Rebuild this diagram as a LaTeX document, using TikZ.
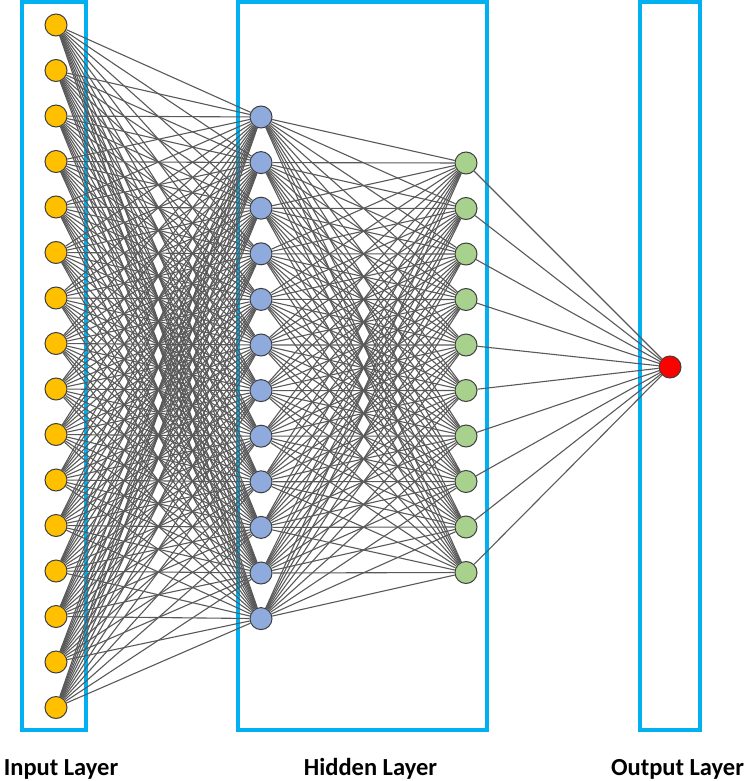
\documentclass[tikz,border=0pt]{standalone}
\usepackage{fontspec}
\setmainfont{Carlito}
\begin{document}
\begin{tikzpicture}[x=1pt,y=-1pt,
  layerbox/.style={draw=cyanbox,line width=4pt},
  neuron/.style={circle,draw=nodeborder,line width=1pt,minimum size=22pt,inner sep=0pt},
  edge/.style={draw=edgegray,line width=1.1pt},
  lbl/.style={font=\bfseries\fontsize{24.5}{28}\selectfont,inner sep=0pt,anchor=base}]
\definecolor{cyanbox}{HTML}{00B0F0}
\definecolor{nodeborder}{HTML}{404040}
\definecolor{edgegray}{HTML}{595959}
\definecolor{inyellow}{HTML}{FFC000}
\definecolor{hidblue}{HTML}{8FAADC}
\definecolor{hidgreen}{HTML}{A9D18E}
\useasboundingbox (0,0) rectangle (749,781);
\draw[layerbox] (22,2) rectangle (86,730);
\draw[layerbox] (238,2) rectangle (487,730);
\draw[layerbox] (640,2) rectangle (700,730);
\foreach \k in {1,...,16}
  \node[neuron,fill=inyellow] (i\k) at (56,{25+(\k-1)*45.5}) {};
\foreach \k in {1,...,12}
  \node[neuron,fill=hidblue] (a\k) at (261,{117+(\k-1)*45.6}) {};
\foreach \k in {1,...,10}
  \node[neuron,fill=hidgreen] (b\k) at (466,{163+(\k-1)*45.5}) {};
\node[neuron,fill=red] (o) at (670,367) {};
\foreach \p in {1,...,16}
  \foreach \q in {1,...,12}
    \draw[edge] (i\p) -- (a\q);
\foreach \p in {1,...,12}
  \foreach \q in {1,...,10}
    \draw[edge] (a\p) -- (b\q);
\foreach \p in {1,...,10}
  \draw[edge] (b\p) -- (o);
\node[lbl] (lin) at (61,775) {Input Layer};
\node[lbl] (lhid) at (370.5,775) {Hidden Layer};
\node[lbl] (lout) at (677.5,775) {Output Layer};
\end{tikzpicture}
\end{document}
